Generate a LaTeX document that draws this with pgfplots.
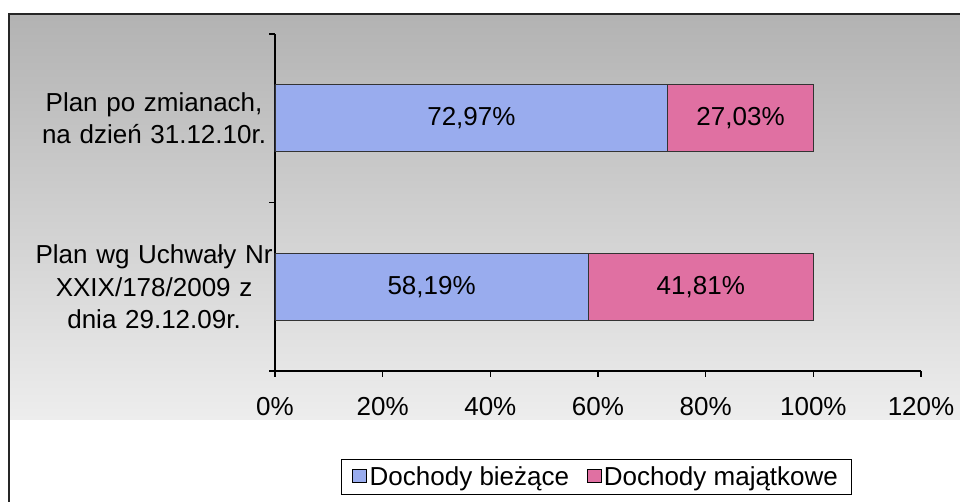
\documentclass[border=0pt]{standalone}
\usepackage{pgfplots}
\pgfplotsset{compat=1.18}
\usepackage{fontspec}
\setmainfont{Liberation Sans}
\definecolor{barblue}{RGB}{153,172,238}
\definecolor{barpink}{RGB}{224,112,162}
\begin{document}
\begin{tikzpicture}[x=0.75pt,y=0.75pt]
\useasboundingbox (0,0) rectangle (960,502);
\clip (0,0) rectangle (960,502);
\shade[top color=black!30, bottom color=black!7] (9,82) rectangle (966,488);
\fill[white] (9,-5) rectangle (966,82);
\draw[line width=1pt, black!85] (9,-5) -- (9,488) -- (966,488);
\begin{axis}[
  at={(206.25pt,98.25pt)}, anchor=south west,
  scale only axis, width=484.5pt, height=252.75pt,
  xbar stacked, bar width=50.25pt,
  xmin=0, xmax=120, ymin=-0.5, ymax=1.5,
  axis x line*=bottom, axis y line*=left,
  axis line style={line width=1pt},
  xtick={0,20,...,120},
  xticklabel={\pgfmathprintnumber{\tick}\%},
  /pgf/number format/assume math mode=true,
  tick align=outside,
  major tick length=4.5pt, minor tick length=4.5pt,
  tick style={line width=0.9pt, black},
  ytick={0,1},
  yticklabels={{Plan wg Uchwały Nr\\XXIX/178/2009 z\\dnia 29.12.09r.},{Plan po zmianach,\\na dzień 31.12.10r.}},
  major y tick style={draw=none},
  minor ytick={-0.5,0.5,1.5},
  yticklabel style={align=center, text width=180pt, anchor=east, inner sep=0pt, xshift=4pt, font=\fontsize{19.5}{24.5}\selectfont},
  xticklabel style={font=\fontsize{19.5}{24}\selectfont, yshift=-12pt},
  nodes near coords={\pgfmathprintnumber[fixed,fixed zerofill,precision=2,use comma]{\pgfplotspointmeta}\%},
  nodes near coords style={font=\fontsize{19.5}{24}\selectfont, text=black, anchor=center},
  point meta=explicit,
  legend columns=2,
  legend style={at={(0.4977,-0.3145)}, anchor=center, draw=black, fill=white, line width=0.8pt,
    font=\fontsize{19.5}{24}\selectfont, inner xsep=8pt, inner ysep=3pt,
    /tikz/every even column/.append style={column sep=11pt}},
  legend image code/.code={\draw[#1, draw=black, line width=0.5pt] (0pt,-4pt) rectangle (10.5pt,6pt);},
]
\addplot[fill=barblue, draw=black!80, line width=0.8pt] coordinates {(58.19,0) [58.19] (72.97,1) [72.97]};
\addlegendentry{Dochody bieżące}
\addplot[fill=barpink, draw=black!80, line width=0.8pt] coordinates {(41.81,0) [41.81] (27.03,1) [27.03]};
\addlegendentry{Dochody majątkowe}
\end{axis}
\end{tikzpicture}
\end{document}
